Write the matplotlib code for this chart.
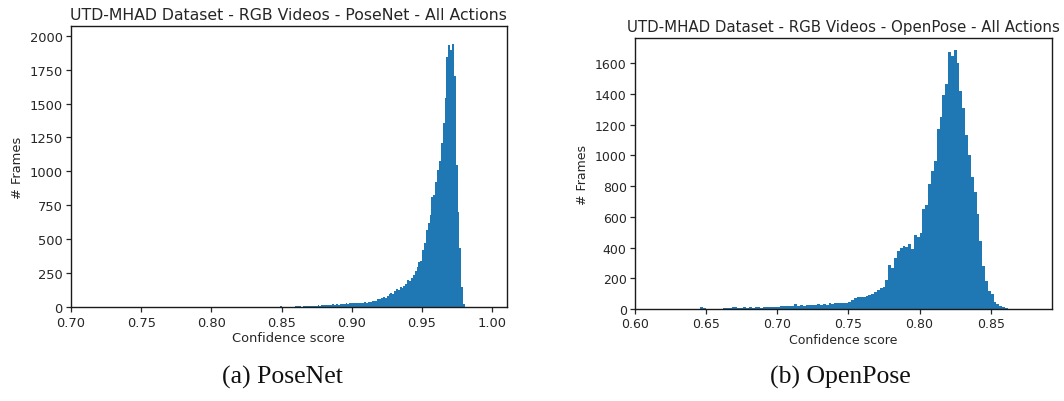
import numpy as np
import matplotlib
matplotlib.use("Agg")
import matplotlib.pyplot as plt

# PoseNet: per-frame confidence histogram (100 equal bins over 0.849-0.982)
posenet_range = (0.849, 0.982)
posenet_counts = [
    10, 0, 0, 0, 0, 0, 2, 3, 8, 9,
    6, 4, 10, 9, 11, 8, 12, 11, 13, 12,
    14, 13, 15, 17, 14, 18, 16, 19, 21, 18,
    22, 20, 24, 22, 25, 28, 26, 30, 34, 28,
    31, 33, 30, 35, 32, 36, 34, 38, 40, 45,
    50, 48, 58, 62, 70, 78, 72, 85, 95, 105,
    100, 120, 135, 130, 150, 145, 160, 175, 200, 195,
    215, 240, 265, 300, 335, 340, 420, 470, 570, 620,
    680, 810, 830, 920, 1010, 1080, 1210, 1360, 1540, 1840,
    1930, 1895, 1940, 1700, 1050, 700, 440, 150, 25, 3,
]

# OpenPose: per-frame confidence histogram (110 equal bins over 0.646-0.866)
openpose_range = (0.646, 0.866)
openpose_counts = [
    10, 6, 0, 0, 2, 0, 3, 2, 5, 4,
    8, 10, 14, 9, 8, 10, 9, 12, 8, 10,
    11, 9, 12, 13, 11, 14, 12, 16, 22, 18,
    20, 17, 21, 30, 22, 24, 20, 26, 23, 28,
    25, 30, 27, 32, 29, 36, 33, 38, 40, 36,
    42, 40, 48, 58, 70, 75, 78, 80, 82, 90,
    98, 110, 125, 138, 145, 190, 285, 270, 330, 375,
    395, 410, 405, 420, 390, 480, 470, 495, 650, 680,
    815, 900, 965, 1170, 1250, 1390, 1465, 1675, 1650, 1685,
    1600, 1420, 1310, 1130, 1000, 860, 760, 620, 440, 280,
    180, 120, 95, 45, 33, 17, 10, 5, 3, 1,
]

posenet_xticks = [0.70, 0.75, 0.80, 0.85, 0.90, 0.95, 1.00]
posenet_yticks = [0, 250, 500, 750, 1000, 1250, 1500, 1750, 2000]
openpose_xticks = [0.60, 0.65, 0.70, 0.75, 0.80, 0.85]
openpose_yticks = [0, 200, 400, 600, 800, 1000, 1200, 1400, 1600]

titles = [
    "UTD-MHAD Dataset - RGB Videos - PoseNet - All Actions",
    "UTD-MHAD Dataset - RGB Videos - OpenPose - All Actions",
]
captions = ["(a) PoseNet", "(b) OpenPose"]

BAR = "#1f77b4"
TXT = "#262626"

plt.rcParams["font.family"] = "DejaVu Sans"
plt.rcParams["axes.linewidth"] = 1.0

fig = plt.figure(figsize=(10.64, 4.02), dpi=100)
ax1 = fig.add_axes([0.0667, 0.2331, 0.4095, 0.7005])
ax2 = fig.add_axes([0.5968, 0.2289, 0.3916, 0.6733])


def draw(ax, rng, counts, xlim, ylim, xticks, yticks, title, fs, tfs):
    counts = np.asarray(counts, dtype=float)
    edges = np.linspace(rng[0], rng[1], len(counts) + 1)
    centers = 0.5 * (edges[:-1] + edges[1:])
    ax.hist(centers, bins=edges, weights=counts, color=BAR)
    ax.set_xlim(*xlim)
    ax.set_ylim(*ylim)
    ax.set_xticks(xticks)
    ax.set_xticklabels([f"{t:.2f}" for t in xticks])
    ax.set_yticks(yticks)
    ax.tick_params(labelsize=fs, colors=TXT, length=3.5, width=0.9, pad=2.5)
    ax.set_xlabel("Confidence score", fontsize=fs, color=TXT, labelpad=2)
    ax.set_ylabel("# Frames", fontsize=fs, color=TXT, labelpad=4)
    ax.set_title(title, fontsize=tfs, color=TXT, pad=5)
    for s in ax.spines.values():
        s.set_color("#1a1a1a")


draw(ax1, posenet_range, posenet_counts, (0.70, 1.0103), (0, 2073),
     posenet_xticks, posenet_yticks, titles[0], 9.4, 11.3)
draw(ax2, openpose_range, openpose_counts, (0.60, 0.8928), (0, 1762),
     openpose_xticks, openpose_yticks, titles[1], 9.0, 10.8)

fig.text(0.265, 0.06, captions[0], ha="center", va="center",
         fontsize=18.5, family="Liberation Serif", color="#111111")
fig.text(0.790, 0.06, captions[1], ha="center", va="center",
         fontsize=18.5, family="Liberation Serif", color="#111111")

fig.savefig("out.png", dpi=100, facecolor="white")
